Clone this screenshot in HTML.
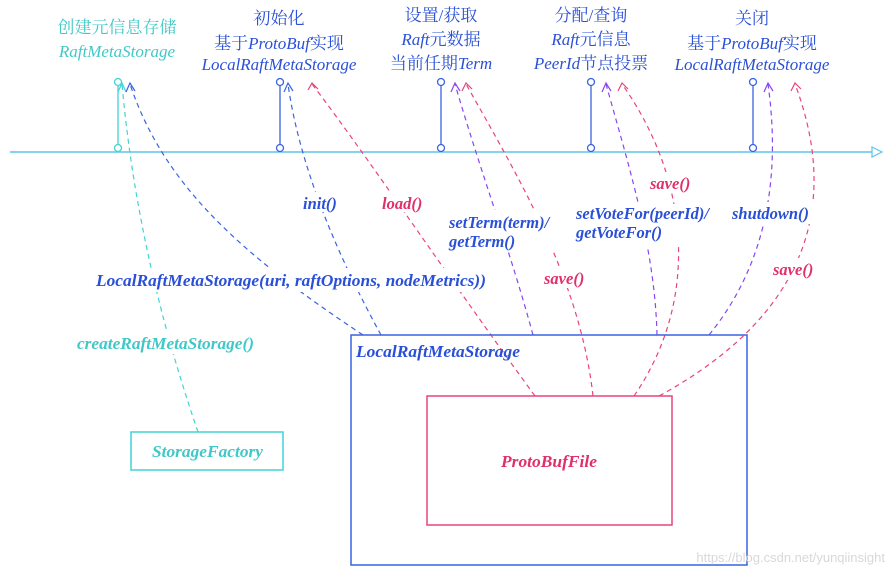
<!DOCTYPE html>
<html><head><meta charset="utf-8"><style>
body{margin:0;background:#fff;}
svg{display:block;}
text{font-family:"Liberation Serif","Noto Serif CJK SC","Noto Sans CJK SC",serif;}
.it{font-style:italic;}
.b{font-weight:bold;font-style:italic;}
</style></head><body>
<svg width="892" height="576" viewBox="0 0 892 576" xmlns="http://www.w3.org/2000/svg">
<!-- timeline -->
<line x1="10" y1="152" x2="878" y2="152" stroke="#5ec4ec" stroke-width="1.5"/>
<path d="M872,147 L882,152 L872,157 Z" fill="#fff" stroke="#5ec4ec" stroke-width="1.2"/>
<!-- ticks -->
<g fill="#fff" stroke-width="1.3">
<line x1="118" y1="85" x2="118" y2="146" stroke="#40d4d4"/>
<circle cx="118" cy="82" r="3.5" stroke="#40d4d4"/><circle cx="118" cy="148" r="3.5" stroke="#40d4d4"/>
<g stroke="#3a64e0">
<line x1="280" y1="85" x2="280" y2="146"/><circle cx="280" cy="82" r="3.5"/><circle cx="280" cy="148" r="3.5"/>
<line x1="441" y1="85" x2="441" y2="146"/><circle cx="441" cy="82" r="3.5"/><circle cx="441" cy="148" r="3.5"/>
<line x1="591" y1="85" x2="591" y2="146"/><circle cx="591" cy="82" r="3.5"/><circle cx="591" cy="148" r="3.5"/>
<line x1="753" y1="85" x2="753" y2="146"/><circle cx="753" cy="82" r="3.5"/><circle cx="753" cy="148" r="3.5"/>
</g></g>
<!-- connectors -->
<g fill="none" stroke-width="1.2" stroke-dasharray="5,4">
<path d="M198,432 C170,350 135,230 122,84" stroke="#40d4d4"/>
<path d="M363,335 C250,260 165,190 130,84" stroke="#3a64e0"/>
<path d="M381,335 C340,260 300,170 288,84" stroke="#3a64e0"/>
<path d="M535,396 C450,280 370,160 312,84" stroke="#e8457a"/>
<path d="M533,335 C510,250 480,170 455,84" stroke="#8a46f0"/>
<path d="M593,396 C580,280 520,180 466,84" stroke="#e8457a"/>
<path d="M657,335 C655,250 630,170 606,84" stroke="#8a46f0"/>
<path d="M634,396 C700,300 690,180 622,84" stroke="#e8457a"/>
<path d="M709,335 C770,260 780,170 768,84" stroke="#8a46f0"/>
<path d="M659,396 C780,330 850,230 795,84" stroke="#e8457a"/>
</g>
<!-- arrowheads -->
<g fill="none" stroke-width="1.2">
<path d="M118,92 L122,83 L126,92" stroke="#40d4d4"/>
<path d="M126,92 L130,83 L135,91" stroke="#3a64e0"/>
<path d="M284,92 L288,83 L293,91" stroke="#3a64e0"/>
<path d="M308,90 L312,83 L318,89" stroke="#e8457a"/>
<path d="M451,92 L455,83 L460,91" stroke="#8a46f0"/>
<path d="M462,91 L466,83 L472,89" stroke="#e8457a"/>
<path d="M602,92 L606,83 L611,91" stroke="#8a46f0"/>
<path d="M618,91 L622,83 L628,89" stroke="#e8457a"/>
<path d="M764,92 L768,83 L773,91" stroke="#8a46f0"/>
<path d="M791,91 L795,83 L801,89" stroke="#e8457a"/>
</g>
<!-- boxes -->
<rect x="131" y="432" width="152" height="38" fill="#fff" stroke="#40d4d4" stroke-width="1.5"/>
<rect x="351" y="335" width="396" height="230" fill="none" stroke="#3a64e0" stroke-width="1.5"/>
<rect x="427" y="396" width="245" height="129" fill="#fff" stroke="#e8457a" stroke-width="1.5"/>
<!-- top labels -->
<g font-size="17" text-anchor="middle">
<text x="117" y="33" fill="#40c8c8">创建元信息存储</text>
<text x="117" y="57" fill="#40c8c8" class="it">RaftMetaStorage</text>
<g fill="#2a50d8">
<text x="279" y="24">初始化</text>
<text x="279" y="49">基于<tspan class="it">ProtoBuf</tspan>实现</text>
<text x="279" y="70" class="it">LocalRaftMetaStorage</text>
<text x="441" y="21">设置/获取</text>
<text x="441" y="45"><tspan class="it">Raft</tspan>元数据</text>
<text x="441" y="69">当前任期<tspan class="it">Term</tspan></text>
<text x="591" y="21">分配/查询</text>
<text x="591" y="45"><tspan class="it">Raft</tspan>元信息</text>
<text x="591" y="69"><tspan class="it">PeerId</tspan>节点投票</text>
<text x="752" y="24">关闭</text>
<text x="752" y="49">基于<tspan class="it">ProtoBuf</tspan>实现</text>
<text x="752" y="70" class="it">LocalRaftMetaStorage</text>
</g></g>
<!-- method labels -->
<g font-size="16.5" class="b">
<rect x="300" y="192" width="46" height="20" fill="#fff"/>
<text x="303" y="209" fill="#2a50d8" class="b">init()</text>
<rect x="380" y="192" width="48" height="20" fill="#fff"/>
<text x="382" y="209" fill="#e0306a" class="b">load()</text>
<rect x="446" y="210" width="116" height="42" fill="#fff"/>
<text x="449" y="228" fill="#2a50d8" class="b">setTerm(term)/</text>
<text x="449" y="247" fill="#2a50d8" class="b">getTerm()</text>
<rect x="542" y="266" width="50" height="22" fill="#fff"/>
<text x="544" y="284" fill="#e0306a" class="b">save()</text>
<rect x="647" y="172" width="50" height="20" fill="#fff"/>
<text x="650" y="189" fill="#e0306a" class="b">save()</text>
<rect x="572" y="204" width="150" height="42" fill="#fff"/>
<text x="576" y="219" fill="#2a50d8" class="b">setVoteFor(peerId)/</text>
<text x="576" y="238" fill="#2a50d8" class="b">getVoteFor()</text>
<rect x="730" y="202" width="84" height="22" fill="#fff"/>
<text x="732" y="219" fill="#2a50d8" class="b">shutdown()</text>
<rect x="770" y="258" width="50" height="22" fill="#fff"/>
<text x="773" y="275" fill="#e0306a" class="b">save()</text>
<rect x="94" y="268" width="394" height="24" fill="#fff"/>
<text x="96" y="286" fill="#2a50d8" class="b" textLength="390" lengthAdjust="spacingAndGlyphs">LocalRaftMetaStorage(uri, raftOptions, nodeMetrics))</text>
<rect x="74" y="332" width="184" height="22" fill="#fff"/>
<text x="77" y="349" fill="#40c8c8" class="b" textLength="177" lengthAdjust="spacingAndGlyphs">createRaftMetaStorage()</text>
<text x="152" y="457" fill="#40c8c8" class="b" textLength="111" lengthAdjust="spacingAndGlyphs">StorageFactory</text>
<text x="356" y="357" fill="#2a50d8" class="b" textLength="164" lengthAdjust="spacingAndGlyphs">LocalRaftMetaStorage</text>
<text x="501" y="467" fill="#e0306a" class="b" textLength="96" lengthAdjust="spacingAndGlyphs">ProtoBufFile</text>
</g>
<text x="885" y="562" font-size="13" fill="#d8d8d8" text-anchor="end" style="font-family:'Liberation Sans',sans-serif">https://blog.csdn.net/yunqiinsight</text>
</svg>
</body></html>
